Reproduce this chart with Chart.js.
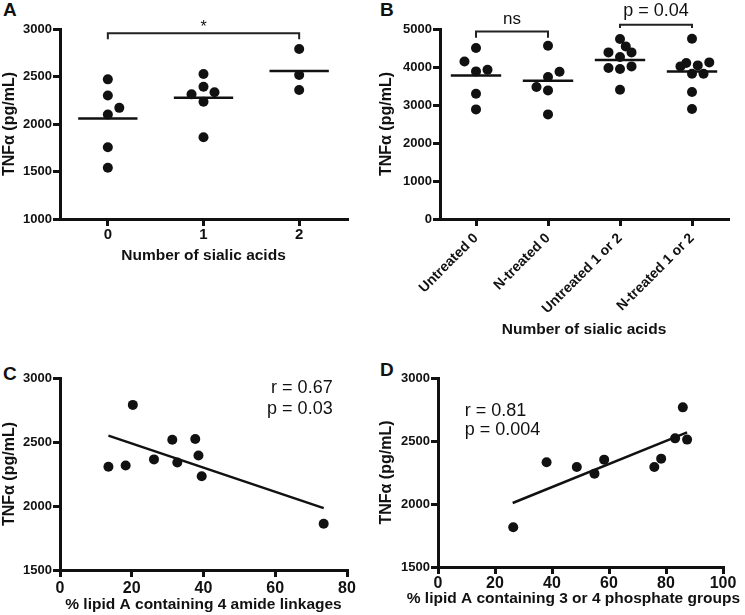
<!DOCTYPE html>
<html>
<head>
<meta charset="utf-8">
<script src="https://cdn.jsdelivr.net/npm/chart.js@4.4.0/dist/chart.umd.min.js"></script>
<style>
    body { margin: 0; background: #fff; width: 745px; height: 615px; position: relative; overflow: hidden; }
    canvas { position: absolute; }
    .tag { position: absolute; font: bold 19px/19px 'Liberation Sans', Arial, sans-serif; color: #111; }
</style>
</head>
<body>
<div class="tag" style="left:3px;top:0px">A</div>
<div class="tag" style="left:380px;top:0px">B</div>
<div class="tag" style="left:3px;top:364px">C</div>
<div class="tag" style="left:380px;top:360px">D</div>
<canvas id="chartA" width="370" height="310" style="left:0;top:0"></canvas>
<canvas id="chartB" width="375" height="345" style="left:370px;top:0"></canvas>
<canvas id="chartC" width="370" height="285" style="left:0;top:330px"></canvas>
<canvas id="chartD" width="375" height="285" style="left:370px;top:330px"></canvas>
<script>
// Panel A: TNFa by number of sialic acids
const groupsA = ['0', '1', '2'];
const tnfA0 = [2470, 2300, 2170, 2100, 1755, 1540];
const tnfA1 = [2526, 2393, 2334, 2312, 2235, 1860];
const tnfA2 = [2790, 2516, 2358];
const meanA = [2058, 2277, 2558];
// horizontal spread of overlapping dots (category units)
const spreadA0 = [0, 0, 0.12, 0, 0, 0];
const spreadA1 = [0, 0, 0.115, -0.125, 0, 0];
const spreadA2 = [0, 0, 0];

// Panel B: untreated vs N-treated
const groupsB = ['Untreated 0', 'N-treated 0', 'Untreated 1 or 2', 'N-treated 1 or 2'];
const tnfB0 = [4500, 4147, 3929, 3884, 3297, 2884];
const tnfB1 = [4560, 3876, 3737, 3474, 3384, 2753];
const tnfB2 = [4737, 4542, 4384, 4384, 4263, 4016, 3974, 3947, 3403];
const tnfB3 = [4745, 4121, 4104, 4042, 4016, 3824, 3824, 3342, 2895];
const meanB = [3779, 3639, 4184, 3884];
const spreadB0 = [0, -0.16, 0.16, 0, 0, 0];
const spreadB1 = [0, 0.16, 0, -0.16, 0, 0];
const spreadB2 = [0, 0.08, -0.16, 0.16, 0, 0.16, -0.16, 0, 0];
const spreadB3 = [0, 0.24, -0.08, 0.08, -0.16, 0, 0.16, 0, 0];

// Panel C: % lipid A with 4 amide linkages
const amideC = [13.5, 18.3, 20.3, 26.2, 31.3, 32.7, 37.7, 38.6, 39.5, 73.5];
const tnfC = [2306, 2317, 2790, 2364, 2518, 2340, 2524, 2395, 2233, 1861];
const fitC = [[13.5, 2550], [73.5, 1983]];

// Panel D: % lipid A with 3 or 4 phosphate groups
const phosD = [26.4, 38.1, 48.7, 54.9, 58.3, 75.9, 78.3, 83.2, 85.9, 87.4];
const tnfD = [1815, 2331, 2294, 2241, 2352, 2294, 2360, 2521, 2767, 2511];
const fitD = [[26.2, 2008], [87.4, 2569]];

const INK = '#111111';
const FONT = "'Liberation Sans', Arial, sans-serif";

// Draws significance brackets and free text in data coordinates
const notesPlugin = {
    id: 'notes',
    afterDraw(chart, args, opts) {
        const ctx = chart.ctx;
        const xs = chart.scales.x;
        const ys = chart.scales.y;
        ctx.save();
        ctx.strokeStyle = '#222';
        ctx.lineWidth = 2;
        (opts.brackets || []).forEach(b => {
            const x1 = xs.getPixelForValue(b.from);
            const x2 = xs.getPixelForValue(b.to);
            const y = ys.getPixelForValue(b.y);
            const yd = ys.getPixelForValue(b.drop);
            ctx.beginPath();
            ctx.moveTo(x1, yd);
            ctx.lineTo(x1, y);
            ctx.lineTo(x2, y);
            ctx.lineTo(x2, yd);
            ctx.stroke();
        });
        (opts.labels || []).forEach(l => {
            ctx.font = l.font;
            ctx.fillStyle = INK;
            ctx.textAlign = l.align || 'center';
            ctx.textBaseline = 'middle';
            ctx.fillText(l.text, xs.getPixelForValue(l.x), ys.getPixelForValue(l.y));
        });
        ctx.restore();
    }
};

function dots(values, spread, group) {
    return {
        data: values.map((v, i) => ({ x: group + spread[i], y: v })),
        backgroundColor: INK,
        borderWidth: 0,
        pointRadius: 5,
        pointHoverRadius: 5
    };
}

function segment(points, width) {
    return {
        data: points.map(p => ({ x: p[0], y: p[1] })),
        showLine: true,
        borderColor: INK,
        borderWidth: width,
        pointRadius: 0
    };
}

function yAxis(min, max, step, width, titlePad) {
    return {
        min: min,
        max: max,
        ticks: {
            stepSize: step,
            color: INK,
            font: { family: FONT, size: 13, weight: 'bold' },
            padding: 1,
            callback: v => String(v)
        },
        grid: { drawOnChartArea: false, tickLength: 7, lineWidth: 3, tickColor: INK },
        border: { color: INK, width: 3 },
        title: {
            display: true,
            text: 'TNFα (pg/mL)',
            color: INK,
            font: { family: FONT, size: 16, weight: 'bold' },
            padding: { top: titlePad, bottom: 0 }
        },
        afterFit: s => { s.width = width; }
    };
}

function xAxis(cfg) {
    const axis = {
        type: 'linear',
        min: cfg.min,
        max: cfg.max,
        ticks: {
            color: INK,
            font: { family: FONT, size: cfg.tickSize, weight: 'bold' },
            padding: cfg.tickPad,
            minRotation: cfg.rotation || 0,
            maxRotation: cfg.rotation || 0
        },
        grid: { drawOnChartArea: false, tickLength: 7, lineWidth: 3, tickColor: INK },
        border: { color: INK, width: 3 },
        title: {
            display: !!cfg.title,
            text: cfg.title || '',
            color: INK,
            font: { family: FONT, size: 15.5, weight: 'bold' },
            padding: { top: 0, bottom: cfg.titlePad || 0 }
        },
        afterFit: s => { s.height = cfg.height; }
    };
    if (cfg.categories) {
        axis.afterBuildTicks = s => { s.ticks = cfg.categories.map((c, i) => ({ value: i })); };
        axis.ticks.callback = v => cfg.categories[v];
    } else {
        axis.ticks.stepSize = cfg.step;
        axis.ticks.callback = v => String(v);
    }
    return axis;
}

function makeChart(id, datasets, scales, padding, notes) {
    return new Chart(document.getElementById(id), {
        type: 'scatter',
        data: { datasets: datasets },
        options: {
            responsive: false,
            animation: false,
            events: [],
            layout: { padding: padding },
            plugins: {
                legend: { display: false },
                tooltip: { enabled: false },
                notes: notes
            },
            scales: scales
        },
        plugins: [notesPlugin]
    });
}

// Panel A
makeChart('chartA',
    [
        dots(tnfA0, spreadA0, 0),
        dots(tnfA1, spreadA1, 1),
        dots(tnfA2, spreadA2, 2),
        ...meanA.map((m, i) => segment([[i - 0.31, m], [i + 0.31, m]], 2.5))
    ],
    {
        x: xAxis({ min: -0.5, max: 2.5, categories: groupsA, tickSize: 15, tickPad: 0, title: 'Number of sialic acids', titlePad: 45, height: 91 }),
        y: yAxis(1000, 3000, 500, 60, 0)
    },
    { top: 29, right: 23, left: 0, bottom: 0 },
    {
        brackets: [{ from: 0, to: 2, y: 2955, drop: 2892 }],
        labels: [{ text: '*', x: 1, y: 3010, font: '16px ' + FONT }]
    }
);

// Panel B
makeChart('chartB',
    [
        dots(tnfB0, spreadB0, 0),
        dots(tnfB1, spreadB1, 1),
        dots(tnfB2, spreadB2, 2),
        dots(tnfB3, spreadB3, 3),
        ...meanB.map((m, i) => segment([[i - 0.35, m], [i + 0.35, m]], 2.5))
    ],
    {
        x: xAxis({ min: -0.5, max: 3.5, categories: groupsB, tickSize: 14, tickPad: 4, rotation: 45, title: 'Number of sialic acids', titlePad: 6, height: 126 }),
        y: yAxis(0, 5000, 1000, 70, 7)
    },
    { top: 29, right: 17, left: 0, bottom: 0 },
    {
        brackets: [
            { from: 0, to: 1, y: 4937, drop: 4771 },
            { from: 2, to: 3, y: 5113, drop: 5026 }
        ],
        labels: [
            { text: 'ns', x: 0.5, y: 5245, font: '17px ' + FONT },
            { text: 'p = 0.04', x: 2.5, y: 5463, font: '18px ' + FONT }
        ]
    }
);

// Panel C
makeChart('chartC',
    [
        { data: amideC.map((v, i) => ({ x: v, y: tnfC[i] })), backgroundColor: INK, borderWidth: 0, pointRadius: 5 },
        segment(fitC, 2.5)
    ],
    {
        x: xAxis({ min: 0, max: 80, step: 20, tickSize: 16, tickPad: 2, title: '% lipid A containing 4 amide linkages', titlePad: 1, height: 45 }),
        y: yAxis(1500, 3000, 500, 60, 0)
    },
    { top: 48, right: 23, left: 0, bottom: 0 },
    {
        labels: [
            { text: 'r = 0.67', x: 76, y: 2924, align: 'right', font: '18px ' + FONT },
            { text: 'p = 0.03', x: 76, y: 2759, align: 'right', font: '18px ' + FONT }
        ]
    }
);

// Panel D (its x title is wider than the axis, so it is drawn as a note)
makeChart('chartD',
    [
        { data: phosD.map((v, i) => ({ x: v, y: tnfD[i] })), backgroundColor: INK, borderWidth: 0, pointRadius: 5 },
        segment(fitD, 2.5)
    ],
    {
        x: xAxis({ min: 0, max: 100, step: 20, tickSize: 16, tickPad: 0, height: 48 }),
        y: yAxis(1500, 3000, 500, 68, 7)
    },
    { top: 48, right: 22, left: 0, bottom: 0 },
    {
        labels: [
            { text: 'r = 0.81', x: 9.4, y: 2735, align: 'left', font: '18px ' + FONT },
            { text: 'p = 0.004', x: 9.4, y: 2590, align: 'left', font: '18px ' + FONT },
            { text: '% lipid A containing 3 or 4 phosphate groups', x: 47.5, y: 1246, font: 'bold 15.5px ' + FONT }
        ]
    }
);
</script>
</body>
</html>
